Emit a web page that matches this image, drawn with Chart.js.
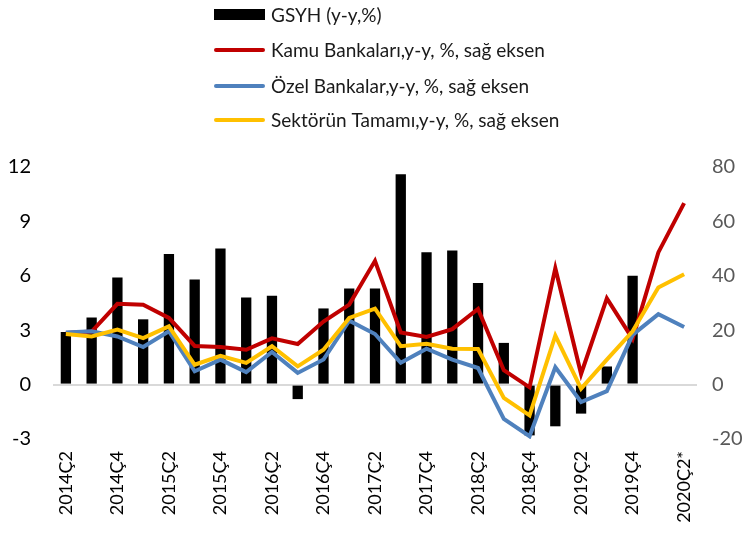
<!DOCTYPE html>
<html>
<head>
<meta charset="utf-8">
<script src="https://cdn.jsdelivr.net/npm/chart.js@4"></script>
<style>
  html, body { margin: 0; padding: 0; background: #fff; }
  #wrap { width: 751px; height: 534px; position: relative; }
</style>
</head>
<body>
<div id="wrap"><canvas id="chart"></canvas></div>
<script>
// quarters 2014Q2 .. 2020Q2
const donemler = ['2014Ç2','2014Ç3','2014Ç4','2015Ç1','2015Ç2','2015Ç3','2015Ç4','2016Ç1','2016Ç2','2016Ç3','2016Ç4',
  '2017Ç1','2017Ç2','2017Ç3','2017Ç4','2018Ç1','2018Ç2','2018Ç3','2018Ç4','2019Ç1','2019Ç2','2019Ç3','2019Ç4','2020Ç1','2020Ç2*'];

const gsyh = [2.9, 3.7, 5.9, 3.6, 7.2, 5.8, 7.5, 4.8, 4.9, -0.8, 4.2, 5.3, 5.3, 11.6, 7.3, 7.4, 5.6, 2.3, -2.8, -2.3, -1.6, 1.0, 6.0, null, null];
const kamu = [19, 19.5, 29.7, 29.4, 24.5, 14.2, 13.8, 12.8, 17, 14.9, 23.2, 29.4, 45.5, 19.2, 17.5, 20.4, 27.8, 5.3, -1, 42.8, 3.9, 31.7, 16.8, 48.6, 66.7];
const ozel = [19.2, 19.6, 17.7, 13.8, 19.6, 4.9, 9.2, 4.6, 12, 4.3, 9.2, 23.5, 18.6, 8, 13.2, 9.2, 6.1, -12.6, -19, 6.4, -6.4, -2.4, 18.3, 25.9, 21.2];
const sektor = [18.6, 17.7, 20.2, 17.1, 21.4, 7.3, 10.6, 8, 14.1, 6.7, 12.8, 24.5, 27.9, 14.1, 15, 13.2, 13.1, -4.9, -11.3, 18, -1.5, 9.2, 19.6, 35.7, 40.6];

const solEksen = { min: -3, max: 12, step: 3 };
const sagEksen = { min: -20, max: 80, step: 20 };

const yazi = 'Lato, "Open Sans", sans-serif';

// legend drawn as a vertical list above the plot
const legendPlugin = {
  id: 'dikeyLegend',
  afterDraw(chart) {
    const ctx = chart.ctx;
    const x0 = 214, w = 51, tx = 271;
    const rows = [15, 50, 86, 120];
    const items = [
      { text: chart.data.datasets[0].label, color: '#000000', bar: true },
      { text: chart.data.datasets[1].label, color: '#C00000' },
      { text: chart.data.datasets[2].label, color: '#4F81BD' },
      { text: chart.data.datasets[3].label, color: '#FFC000' }
    ];
    ctx.save();
    ctx.font = '19px ' + yazi;
    ctx.textBaseline = 'middle';
    items.forEach((it, i) => {
      const y = rows[i];
      if (it.bar) {
        ctx.fillStyle = it.color;
        ctx.fillRect(x0, y - 6, w, 11);
      } else {
        ctx.strokeStyle = it.color;
        ctx.lineWidth = 4;
        ctx.lineCap = 'round';
        ctx.beginPath();
        ctx.moveTo(x0 + 2, y);
        ctx.lineTo(x0 + w - 2, y);
        ctx.stroke();
      }
      ctx.fillStyle = '#1a1a1a';
      ctx.fillText(it.text, tx, y + 1);
    });
    ctx.restore();
  }
};

const ctx = document.getElementById('chart').getContext('2d');
const chart = new Chart(ctx, {
  data: {
    labels: donemler,
    datasets: [
      {
        type: 'bar',
        label: 'GSYH (y-y,%)',
        data: gsyh,
        backgroundColor: '#000000',
        yAxisID: 'y',
        order: 4,
        barPercentage: 0.4,
        categoryPercentage: 1.0
      },
      {
        type: 'line',
        label: 'Kamu Bankaları,y-y, %, sağ eksen',
        data: kamu,
        borderColor: '#C00000',
        backgroundColor: '#C00000',
        borderWidth: 4,
        pointRadius: 0,
        tension: 0,
        yAxisID: 'y1',
        order: 3
      },
      {
        type: 'line',
        label: 'Özel Bankalar,y-y, %, sağ eksen',
        data: ozel,
        borderColor: '#4F81BD',
        backgroundColor: '#4F81BD',
        borderWidth: 4,
        pointRadius: 0,
        tension: 0,
        yAxisID: 'y1',
        order: 2
      },
      {
        type: 'line',
        label: 'Sektörün Tamamı,y-y, %, sağ eksen',
        data: sektor,
        borderColor: '#FFC000',
        backgroundColor: '#FFC000',
        borderWidth: 4,
        pointRadius: 0,
        tension: 0,
        yAxisID: 'y1',
        order: 1
      }
    ]
  },
  options: {
    responsive: true,
    maintainAspectRatio: false,
    animation: false,
    layout: { padding: { top: 167, left: 0, right: 0, bottom: 0 } },
    plugins: {
      legend: { display: false },
      tooltip: { enabled: false }
    },
    scales: {
      x: {
        offset: true,
        grid: { display: false, drawTicks: false },
        border: { display: false },
        ticks: {
          autoSkip: false,
          maxRotation: 90,
          minRotation: 90,
          padding: 12,
          color: '#000000',
          font: { family: yazi, size: 18 },
          callback: function(value, index) {
            return index % 2 === 0 ? this.getLabelForValue(value) : '';
          }
        },
        afterFit: function(scale) { scale.height = 95; }
      },
      y: {
        position: 'left',
        min: solEksen.min,
        max: solEksen.max,
        ticks: {
          stepSize: solEksen.step,
          padding: 22,
          color: '#000000',
          font: { family: yazi, size: 20 }
        },
        grid: {
          drawTicks: false,
          lineWidth: 2,
          color: ctx => ctx.tick && ctx.tick.value === 0 ? '#d9d9d9' : 'rgba(0,0,0,0)'
        },
        border: { display: false },
        afterFit: function(scale) { scale.width = 53; }
      },
      y1: {
        position: 'right',
        min: sagEksen.min,
        max: sagEksen.max,
        ticks: {
          stepSize: sagEksen.step,
          padding: 15,
          color: '#595959',
          font: { family: yazi, size: 20 }
        },
        grid: { display: false, drawTicks: false },
        border: { display: false },
        afterFit: function(scale) { scale.width = 54; }
      }
    }
  },
  plugins: [legendPlugin]
});
</script>
</body>
</html>
